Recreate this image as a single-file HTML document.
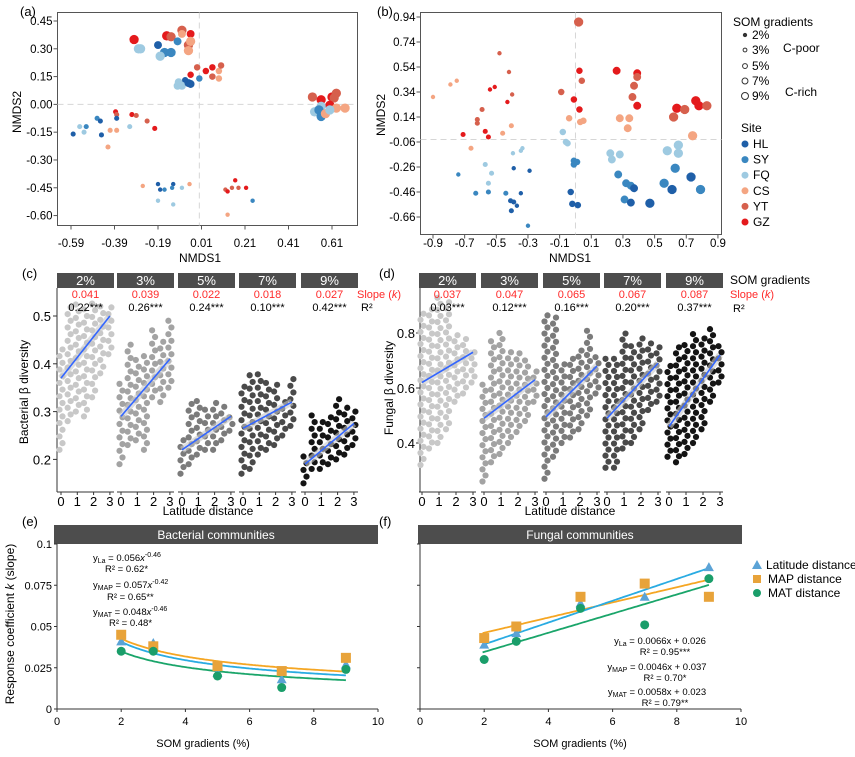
<!DOCTYPE html>
<html><head><meta charset="utf-8">
<style>
html,body{margin:0;padding:0;background:#fff;}
svg{display:block;font-family:"Liberation Sans",Arial,sans-serif;}
</style></head>
<body>
<svg id="fig" width="855" height="757" viewBox="0 0 855 757" xmlns="http://www.w3.org/2000/svg">
  <text x="20" y="16" font-size="13">(a)</text>
  <text x="377" y="16" font-size="13">(b)</text>
  <text x="22" y="278" font-size="13">(c)</text>
  <text x="379" y="278" font-size="13">(d)</text>
  <text x="22" y="526" font-size="13">(e)</text>
  <text x="379" y="526" font-size="13">(f)</text>

  <rect x="57.5" y="12.5" width="300" height="213" fill="none" stroke="#555" stroke-width="1"/>
  <text x="200" y="262" font-size="12" text-anchor="middle">NMDS1</text>
  <text transform="translate(21,112) rotate(-90)" font-size="12" text-anchor="middle">NMDS2</text>
  <rect x="420.5" y="12.5" width="301" height="222" fill="none" stroke="#555" stroke-width="1"/>
  <text x="570" y="262" font-size="12" text-anchor="middle">NMDS1</text>
  <text transform="translate(385,115) rotate(-90)" font-size="12" text-anchor="middle">NMDS2</text>

  <g font-size="12">
    <text x="733" y="26">SOM gradients</text>
    <text x="783" y="52">C-poor</text>
    <text x="785" y="96">C-rich</text>
    <text x="741" y="132">Site</text>
  </g>

  <text transform="translate(28,392) rotate(-90)" font-size="12" text-anchor="middle">Bacterial β diversity</text>
  <text x="208" y="515" font-size="12" text-anchor="middle">Latitude distance</text>
  <text x="357" y="298" font-size="11" fill="#ff2a2a">Slope (<tspan font-style="italic">k</tspan>)</text>
  <text x="361" y="311" font-size="11">R²</text>
  <text transform="translate(393,388) rotate(-90)" font-size="12" text-anchor="middle">Fungal β diversity</text>
  <text x="570" y="515" font-size="12" text-anchor="middle">Latitude distance</text>
  <text x="730" y="284" font-size="12">SOM gradients</text>
  <text x="730" y="298" font-size="11" fill="#ff2a2a">Slope (<tspan font-style="italic">k</tspan>)</text>
  <text x="733" y="312" font-size="11">R²</text>

  <rect x="54" y="525" width="324" height="19" fill="#4d4d4d"/>
  <text x="216" y="539" font-size="12" fill="#fff" text-anchor="middle">Bacterial communities</text>
  <rect x="418" y="525" width="324" height="19" fill="#4d4d4d"/>
  <text x="580" y="539" font-size="12" fill="#fff" text-anchor="middle">Fungal communities</text>
  <text transform="translate(14,624) rotate(-90)" font-size="12" text-anchor="middle">Response coefficient <tspan font-style="italic">k</tspan> (slope)</text>
  <text x="203" y="747" font-size="11" text-anchor="middle">SOM gradients (%)</text>
  <text x="580" y="747" font-size="11" text-anchor="middle">SOM gradients (%)</text>

  <g font-size="9.5">
    <text x="93" y="561">y<tspan font-size="7" dy="2">La</tspan><tspan dy="-2"> = 0.056</tspan><tspan font-style="italic">x</tspan><tspan font-size="7" dy="-4">-0.46</tspan></text>
    <text x="105" y="572">R² = 0.62*</text>
    <text x="93" y="588">y<tspan font-size="7" dy="2">MAP</tspan><tspan dy="-2"> = 0.057</tspan><tspan font-style="italic">x</tspan><tspan font-size="7" dy="-4">-0.42</tspan></text>
    <text x="107" y="600">R² = 0.65**</text>
    <text x="93" y="615">y<tspan font-size="7" dy="2">MAT</tspan><tspan dy="-2"> = 0.048</tspan><tspan font-style="italic">x</tspan><tspan font-size="7" dy="-4">-0.46</tspan></text>
    <text x="109" y="626">R² = 0.48*</text>
  </g>
  <g font-size="9.5" text-anchor="middle">
    <text x="660" y="644">y<tspan font-size="7" dy="2">La</tspan><tspan dy="-2"> = 0.0066x + 0.026</tspan></text>
    <text x="665" y="655">R² = 0.95***</text>
    <text x="657" y="670">y<tspan font-size="7" dy="2">MAP</tspan><tspan dy="-2"> = 0.0046x + 0.037</tspan></text>
    <text x="665" y="681">R² = 0.70*</text>
    <text x="657" y="695">y<tspan font-size="7" dy="2">MAT</tspan><tspan dy="-2"> = 0.0058x + 0.023</tspan></text>
    <text x="665" y="706">R² = 0.79**</text>
  </g>
  <g font-size="12">
    <polygon points="757,560 762,569 752,569" fill="#5ba3d6"/>
    <text x="766" y="569">Latitude distance</text>
    <rect x="753" y="575" width="8" height="8" fill="#e8a33a"/>
    <text x="768" y="583">MAP distance</text>
    <circle cx="757" cy="593" r="4" fill="#1a9e6a"/>
    <text x="768" y="597">MAT distance</text>
  </g>
  <g id="dyn"></g>
</svg>
<script>
const aX = [-0.30,-0.28,-0.27,-0.19,-0.16,-0.18,-0.13,-0.15,-0.13,-0.10,-0.08,-0.08,-0.04,-0.05,-0.04,-0.05,
 -0.04,-0.01,0.03,0.06,0.06,0.09,0.09,0.10,-0.065,-0.095,-0.10,-0.08,-0.05,-0.04,0.0,
 0.52,0.56,0.61,0.63,0.62,0.60,0.53,0.56,0.55,0.56,0.58,0.63,0.67,0.60,
 -0.58,-0.55,-0.53,-0.52,-0.47,-0.455,-0.45,-0.385,-0.38,-0.38,-0.32,-0.41,-0.38,-0.42,-0.31,-0.29,-0.24,-0.205,
 -0.26,-0.19,-0.18,-0.16,-0.12,-0.125,-0.08,-0.045,-0.19,-0.12,0.12,0.13,0.15,0.165,0.18,0.215,0.245,0.13];
const aY = [0.35,0.30,0.30,0.32,0.28,0.26,0.28,0.37,0.365,0.34,0.40,0.38,0.38,0.32,0.34,0.29,
 0.16,0.20,0.18,0.20,0.15,0.18,0.14,0.21,0.13,0.12,0.10,0.10,0.115,0.11,0.14,
 0.04,0.025,0.04,0.06,0.035,-0.005,-0.04,-0.01,-0.03,-0.065,-0.05,-0.02,-0.02,-0.03,
 -0.16,-0.12,-0.15,-0.12,-0.075,-0.09,-0.165,-0.04,-0.055,-0.075,-0.12,-0.14,-0.14,-0.23,-0.055,-0.06,-0.09,-0.13,
 -0.44,-0.43,-0.46,-0.46,-0.43,-0.45,-0.45,-0.43,-0.52,-0.54,-0.46,-0.47,-0.45,-0.41,-0.45,-0.45,-0.52,-0.595];
const aSite = [5,2,2,0,1,2,1,5,4,1,4,3,5,4,3,3,
 5,4,5,5,4,3,3,4,0,2,2,2,0,0,1,
 4,5,5,4,4,5,2,2,1,1,3,3,3,2,
 0,2,2,1,1,0,0,5,4,0,2,3,3,3,5,4,4,5,
 3,0,0,1,0,1,2,3,2,2,4,5,4,5,4,5,1,3];
const aSom = [9,9,9,7,9,9,9,9,9,7,9,7,7,9,9,9,
 5,5,5,5,5,5,5,5,5,7,7,7,7,7,5,
 9,9,9,9,9,9,9,9,9,9,9,9,9,9,
 3,3,3,3,3,3,3,3,3,3,3,3,3,3,3,3,3,3,
 2,2,2,2,2,2,2,2,2,2,2,2,2,2,2,2,2,2];
const aXTicks = [-0.59,-0.39,-0.19,0.01,0.21,0.41,0.61];
const aYTicks = [0.45,0.30,0.15,0.00,-0.15,-0.30,-0.45,-0.60];

const bX = [0.02,-0.48,-0.42,-0.75,-0.79,-0.54,-0.51,-0.40,-0.90,-0.43,-0.59,-0.62,-0.62,-0.405,-0.57,-0.71,-0.55,-0.46,-0.66,
 -0.335,-0.345,-0.395,-0.57,-0.39,-0.29,-0.74,-0.53,-0.55,-0.63,-0.55,-0.44,-0.345,-0.41,-0.39,-0.37,-0.405,-0.30,
 0.025,0.04,-0.09,-0.01,0.025,-0.04,0.03,0.05,-0.08,-0.06,-0.05,-0.01,0.01,-0.01,-0.03,-0.02,0.015,
 0.26,0.39,0.39,0.37,0.36,0.39,0.28,0.34,0.33,0.22,0.28,0.23,0.27,0.32,0.35,0.37,0.31,0.35,0.47,
 0.64,0.69,0.76,0.78,0.83,0.62,0.74,0.58,0.65,0.65,0.63,0.73,0.56,0.61,0.79];
const bY = [0.90,0.65,0.50,0.43,0.40,0.36,0.38,0.32,0.30,0.26,0.20,0.12,0.09,0.07,0.025,0.0,-0.02,0.01,-0.11,
 -0.11,-0.13,-0.15,-0.24,-0.27,-0.29,-0.32,-0.31,-0.39,-0.47,-0.46,-0.47,-0.47,-0.53,-0.54,-0.57,-0.61,-0.73,
 0.51,0.43,0.34,0.28,0.20,0.13,0.10,0.11,0.02,-0.06,-0.07,-0.21,-0.22,-0.24,-0.46,-0.555,-0.565,
 0.51,0.49,0.46,0.39,0.30,0.23,0.13,0.13,0.05,-0.15,-0.16,-0.20,-0.32,-0.39,-0.41,-0.43,-0.52,-0.545,-0.55,
 0.21,0.20,0.27,0.23,0.23,0.14,-0.01,-0.13,-0.085,-0.15,-0.27,-0.34,-0.39,-0.44,-0.44];
const bSite = [4,4,4,3,3,5,5,4,3,5,4,4,4,3,5,5,5,3,3,
 2,2,2,2,0,0,1,2,2,1,1,1,0,0,0,0,0,1,
 5,4,4,5,5,3,3,3,2,2,2,1,1,1,0,0,0,
 5,5,4,4,4,5,3,3,3,2,2,2,1,1,1,0,1,0,0,
 5,4,5,5,4,4,3,2,2,2,1,0,1,0,1];
const bSom = [9,2,2,2,2,2,2,2,2,2,3,3,3,3,3,3,3,3,3,
 2,2,2,3,2,2,2,3,3,3,3,3,2,3,3,2,3,2,
 5,5,5,5,5,5,5,5,5,5,5,5,5,5,5,5,5,
 7,7,7,7,7,7,7,7,7,7,7,7,7,7,7,7,7,7,9,
 9,9,9,9,9,9,9,9,9,9,9,9,9,9,9];
const bXTicks = [-0.9,-0.7,-0.5,-0.3,-0.1,0.1,0.3,0.5,0.7,0.9];
const bYTicks = [0.94,0.74,0.54,0.34,0.14,-0.06,-0.26,-0.46,-0.66];

const siteNames = ["HL","SY","FQ","CS","YT","GZ"];
const siteColors = ["#1f5fa8","#3a87c0","#9ecae1","#f4a582","#d6604d","#e41a1c"];
const somLevels = [2,3,5,7,9];

const latCols = [0,0.5,1,1.5,2,2.5,3];
const somLabels = ["2%","3%","5%","7%","9%"];
const cLo = [[0.22,0.28,0.30,0.29,0.33,0.38,0.42],[0.19,0.23,0.24,0.22,0.33,0.32,0.35],[0.17,0.19,0.21,0.22,0.22,0.24,0.26],[0.17,0.18,0.21,0.22,0.23,0.25,0.27],[0.15,0.18,0.18,0.19,0.20,0.21,0.23]];
const cHi = [[0.44,0.53,0.53,0.52,0.53,0.52,0.52],[0.36,0.45,0.42,0.42,0.47,0.45,0.50],[0.24,0.32,0.33,0.31,0.32,0.32,0.30],[0.36,0.38,0.39,0.37,0.36,0.33,0.37],[0.21,0.30,0.28,0.29,0.33,0.32,0.30]];
const cFitStart = [0.37,0.29,0.22,0.265,0.19];
const cFitEnd = [0.50,0.41,0.29,0.32,0.275];
const cSlope = ["0.041","0.039","0.022","0.018","0.027"];
const cR2 = ["0.22***","0.26***","0.24***","0.10***","0.42***"];
const cYTicks = [0.2,0.3,0.4,0.5];
const dLo = [[0.32,0.38,0.40,0.45,0.55,0.58,0.62],[0.26,0.33,0.36,0.40,0.44,0.48,0.55],[0.27,0.35,0.40,0.42,0.45,0.50,0.58],[0.31,0.31,0.38,0.40,0.45,0.52,0.55],[0.35,0.33,0.36,0.40,0.45,0.55,0.62]];
const dHi = [[0.88,0.90,0.93,0.93,0.80,0.78,0.75],[0.62,0.78,0.80,0.75,0.73,0.70,0.68],[0.87,0.86,0.70,0.72,0.75,0.82,0.73],[0.72,0.72,0.80,0.76,0.79,0.78,0.76],[0.68,0.75,0.76,0.80,0.78,0.82,0.77]];
const dFitStart = [0.62,0.49,0.495,0.49,0.46];
const dFitEnd = [0.73,0.63,0.68,0.69,0.72];
const dSlope = ["0.037","0.047","0.065","0.067","0.087"];
const dR2 = ["0.03***","0.12***","0.16***","0.20***","0.37***"];
const dYTicks = [0.4,0.6,0.8];
const latTicks = [0,1,2,3];
const greys = ["#c8c8c8","#a3a3a3","#7b7b7b","#4a4a4a","#141414"];

const somX = [2,3,5,7,9];
const eLat = [0.041,0.040,0.022,0.018,0.027];
const eMap = [0.045,0.038,0.026,0.023,0.031];
const eMat = [0.035,0.035,0.020,0.013,0.024];
const ePowA = [0.056,0.057,0.048];
const ePowB = [-0.46,-0.42,-0.46];
const fLat = [0.039,0.046,0.064,0.068,0.086];
const fMap = [0.043,0.050,0.068,0.076,0.068];
const fMat = [0.030,0.041,0.061,0.051,0.079];
const fSlopes = [0.0066,0.0046,0.0058];
const fIntercepts = [0.026,0.037,0.023];
const kYTicks = [0,0.025,0.05,0.075,0.1];
const kYTickLabels = ["0","0.025","0.05","0.075","0.1"];
const somXTicks = [0,2,4,6,8,10];
const lineColors = ["#29abe2","#f5a623","#1aa56a"];
const markColors = ["#5ba3d6","#e8a33a","#1a9e6a"];

const NS="http://www.w3.org/2000/svg";
const root=document.getElementById('dyn');
function mk(tag,parent){const e=document.createElementNS(NS,tag);(parent||root).appendChild(e);return e;}
function txt(x,y,s,size,anchor,fill){const t=mk('text');t.setAttribute('x',x);t.setAttribute('y',y);t.setAttribute('font-size',size);t.setAttribute('text-anchor',anchor||'middle');if(fill)t.setAttribute('fill',fill);t.textContent=s;return t;}
function radius(som){return 1.5+som*0.35;}

const axA = v=>71+(v+0.59)*217.5, ayA = v=>21+(0.45-v)*185.3;
const axB = v=>433+(v+0.9)*158.3, ayB = v=>17+(0.94-v)*125;

function nmds(X,Y,S,M,ax,ay,xt,yt,box,fmt,name,hzero){
  let l=mk('line');l.setAttribute('x1',ax(0));l.setAttribute('x2',ax(0));l.setAttribute('y1',box[1]);l.setAttribute('y2',box[3]);l.setAttribute('stroke','#d6d6d6');l.setAttribute('stroke-dasharray','6,4');
  
  
  l=mk('line');l.setAttribute('y1',ay(hzero));l.setAttribute('y2',ay(hzero));l.setAttribute('x1',box[0]);l.setAttribute('x2',box[2]);l.setAttribute('stroke','#d6d6d6');l.setAttribute('stroke-dasharray','6,4');
  
  
  xt.forEach(v=>{const t=txt(ax(v),247,v.toFixed(fmt),11.5);
    
    
    const k=mk('line');k.setAttribute('x1',ax(v));k.setAttribute('x2',ax(v));k.setAttribute('y1',box[3]);k.setAttribute('y2',box[3]+4);k.setAttribute('stroke','#555');
    
    });
  yt.forEach(v=>{const t=txt(box[0]-5,ay(v)+4,v.toFixed(2),11.5,'end');
    
    
    const k=mk('line');k.setAttribute('x1',box[0]-4);k.setAttribute('x2',box[0]);k.setAttribute('y1',ay(v));k.setAttribute('y2',ay(v));k.setAttribute('stroke','#555');
    
    });
  for(let i=0;i<X.length;i++){const c=mk('circle');c.setAttribute('cx',ax(X[i]));c.setAttribute('cy',ay(Y[i]));c.setAttribute('r',radius(M[i]));c.setAttribute('fill',siteColors[S[i]]);
    
    }
}
nmds(aX,aY,aSite,aSom,axA,ayA,aXTicks,aYTicks,[57.5,12.5,357.5,225.5],2,'panel-a',0);
nmds(bX,bY,bSite,bSom,axB,ayB,bXTicks,bYTicks,[420.5,12.5,721.5,234.5],1,'panel-b',-0.04);

somLevels.forEach((s,i)=>{const y=[39,54,70,85,100][i];const c=mk('circle');c.setAttribute('cx',745);c.setAttribute('cy',y-4);c.setAttribute('r',radius(s)*0.75);c.setAttribute('fill',i===0?'#333':'#fff');c.setAttribute('stroke','#333');
  
  
  const t=txt(752,y,s+'%',12,'start');
  
  });
siteNames.forEach((s,i)=>{const y=148+i*15.6;const c=mk('circle');c.setAttribute('cx',745);c.setAttribute('cy',y-4);c.setAttribute('r',3.5);c.setAttribute('fill',siteColors[i]);
  
  
  const t=txt(753,y,s,12,'start');
  
  });

function facets(lefts,fw,x0,xs,ay,lo,hi,fs,fe,slope,r2,yt,axisX,yTickX,name,step,rad){
  let l=mk('line');l.setAttribute('x1',axisX);l.setAttribute('x2',axisX);l.setAttribute('y1',288);l.setAttribute('y2',492);l.setAttribute('stroke','#333');
  
  
  yt.forEach(v=>{const t=txt(yTickX,ay(v)+5,v.toFixed(1),13,'end');
    
    
    const k=mk('line');k.setAttribute('x1',axisX-4);k.setAttribute('x2',axisX);k.setAttribute('y1',ay(v));k.setAttribute('y2',ay(v));k.setAttribute('stroke','#333');
    
    });
  lefts.forEach((L,f)=>{
    const ax=v=>L+x0+v*xs;
    latCols.forEach((c,j)=>{let n=0;for(let v=lo[f][j];v<=hi[f][j]+1e-9;v+=step){const d=mk('circle');d.setAttribute('cx',ax(c)+((n++%2)?1.5:-1.5));d.setAttribute('cy',ay(v));d.setAttribute('r',rad);d.setAttribute('fill',greys[f]);
      
      }});
    const band=mk('line');band.setAttribute('x1',ax(0));band.setAttribute('x2',ax(3));band.setAttribute('y1',ay(fs[f]));band.setAttribute('y2',ay(fe[f]));band.setAttribute('stroke','rgba(200,200,200,0.6)');band.setAttribute('stroke-width',7);
    
    
    const fl=mk('line');fl.setAttribute('x1',ax(0));fl.setAttribute('x2',ax(3));fl.setAttribute('y1',ay(fs[f]));fl.setAttribute('y2',ay(fe[f]));fl.setAttribute('stroke','#3366ff');fl.setAttribute('stroke-width',1.6);
    
    
    const s=mk('rect');s.setAttribute('x',L);s.setAttribute('y',273);s.setAttribute('width',fw);s.setAttribute('height',15);s.setAttribute('fill','#4d4d4d');
    
    
    let t=txt(L+fw/2,285,somLabels[f],13,'middle','#fff');
    
    
    t=txt(L+fw/2,298,slope[f],11,'middle','#ff2a2a');
    
    
    t=txt(L+fw/2,311,r2[f],11,'middle');
    
    
    const b=mk('line');b.setAttribute('x1',L);b.setAttribute('x2',L+fw);b.setAttribute('y1',492);b.setAttribute('y2',492);b.setAttribute('stroke','#333');
    
    
    latTicks.forEach(v=>{const k=mk('line');k.setAttribute('x1',ax(v));k.setAttribute('x2',ax(v));k.setAttribute('y1',492);k.setAttribute('y2',495);k.setAttribute('stroke','#333');
      
      
      const tt=txt(ax(v),506,String(v),13);
      
      });
  });
}
facets([57,117,178,239,301],57,4,16.3,v=>316+(0.5-v)*478,cLo,cHi,cFitStart,cFitEnd,cSlope,cR2,cYTicks,57,51,'panel-c',0.014,3.1);
facets([419,481,543,604,666],57,3,17,v=>388+(0.6-v)*275,dLo,dHi,dFitStart,dFitEnd,dSlope,dR2,dYTicks,420,415,'panel-d',0.022,3.1);

const kY = v=>709-v*1650;
function kPanel(x0,series,fitFn,name,showLabels){
  const ax=v=>x0+v*32.1;
  let l=mk('line');l.setAttribute('x1',x0);l.setAttribute('x2',x0);l.setAttribute('y1',544);l.setAttribute('y2',709);l.setAttribute('stroke','#333');
  
  
  l=mk('line');l.setAttribute('x1',x0);l.setAttribute('x2',ax(10));l.setAttribute('y1',709);l.setAttribute('y2',709);l.setAttribute('stroke','#333');
  
  
  kYTicks.forEach((v,i)=>{const k=mk('line');k.setAttribute('x1',x0-3);k.setAttribute('x2',x0);k.setAttribute('y1',kY(v));k.setAttribute('y2',kY(v));k.setAttribute('stroke','#333');
    
    
    if(showLabels){const t=txt(x0-5,kY(v)+4,kYTickLabels[i],11,'end');
      
      }});
  somXTicks.forEach(v=>{const k=mk('line');k.setAttribute('x1',ax(v));k.setAttribute('x2',ax(v));k.setAttribute('y1',709);k.setAttribute('y2',712);k.setAttribute('stroke','#333');
    
    
    const t=txt(ax(v),725,String(v),11);
    
    });
  [2,1,0].forEach(s=>{let d='';for(let x=1.95;x<=9.001;x+=0.05){d+=(d?'L':'M')+ax(x).toFixed(1)+','+kY(fitFn(s,x)).toFixed(1);}
    const p=mk('path');p.setAttribute('d',d);p.setAttribute('fill','none');p.setAttribute('stroke',lineColors[s]);p.setAttribute('stroke-width',1.8);
    
    });
  series.forEach((arr,s)=>{arr.forEach((v,i)=>{const cx=ax(somX[i]),cy=kY(v);let m;
    if(s===0){m=mk('polygon');m.setAttribute('points',`${cx},${cy-5} ${cx+5},${cy+4} ${cx-5},${cy+4}`);}
    else if(s===1){m=mk('rect');m.setAttribute('x',cx-5);m.setAttribute('y',cy-5);m.setAttribute('width',10);m.setAttribute('height',10);}
    else{m=mk('circle');m.setAttribute('cx',cx);m.setAttribute('cy',cy);m.setAttribute('r',4.5);}
    m.setAttribute('fill',markColors[s]);
    
    });});
}
kPanel(57,[eLat,eMap,eMat],(s,x)=>ePowA[s]*Math.pow(x,ePowB[s]),'panel-e',true);
kPanel(420,[fLat,fMap,fMat],(s,x)=>fSlopes[s]*x+fIntercepts[s],'panel-f',false);
</script>
</body></html>
